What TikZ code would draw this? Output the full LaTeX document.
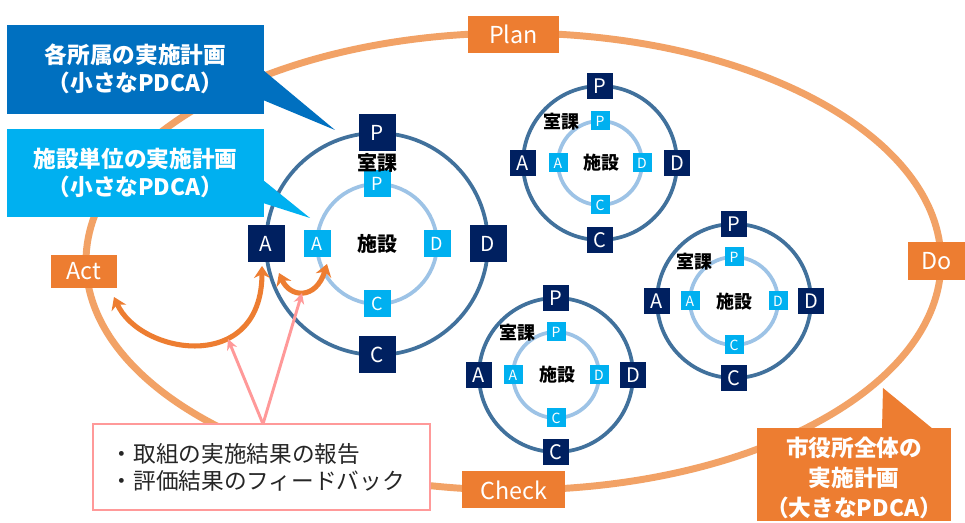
\documentclass[tikz,border=0pt]{standalone}
\usepackage{fontspec}
\setmainfont{Noto Sans CJK JP}
\usetikzlibrary{arrows.meta}
\definecolor{navy}{HTML}{002060}
\definecolor{skyb}{HTML}{00B0F0}
\definecolor{ringout}{HTML}{41719C}
\definecolor{ringin}{HTML}{9DC3E6}
\definecolor{orng}{HTML}{ED7D31}
\definecolor{loopc}{HTML}{F2A266}
\definecolor{dblue}{HTML}{0070C0}
\definecolor{pinkc}{HTML}{FF9999}
\definecolor{txt}{HTML}{262626}
\newcommand\pdcaunit[9]{%
  \coordinate (#1) at (#2,#3);
  \draw[outerring] (#1) circle[radius=#4];
  \draw[innerring] (#1) circle[radius=#5];
  \node[bigbox, minimum size=#6, font=#8] (#1P) at (#2,{#3-#4}) {P};
  \node[bigbox, minimum size=#6, font=#8] (#1D) at ({#2+#4},#3) {D};
  \node[bigbox, minimum size=#6, font=#8] (#1C) at (#2,{#3+#4}) {C};
  \node[bigbox, minimum size=#6, font=#8] (#1A) at ({#2-#4},#3) {A};
  \node[smallbox, minimum size=#7, font=#9] (#1p) at (#2,{#3-#5}) {P};
  \node[smallbox, minimum size=#7, font=#9] (#1d) at ({#2+#5},#3) {D};
  \node[smallbox, minimum size=#7, font=#9] (#1c) at (#2,{#3+#5}) {C};
  \node[smallbox, minimum size=#7, font=#9] (#1a) at ({#2-#5},#3) {A};
}
\begin{document}
\begin{tikzpicture}[x=0.75pt,y=-0.75pt,
  outerring/.style={draw=ringout, line width=2.8pt},
  innerring/.style={draw=ringin, line width=2.8pt},
  bigbox/.style={fill=navy, text=white, inner sep=0pt},
  smallbox/.style={fill=skyb, text=white, inner sep=0pt},
  phase/.style={fill=orng, text=white, inner sep=0pt, font=\fontsize{17.5}{20}\selectfont},
  calltext/.style={text=white, align=center, font=\bfseries\fontsize{17}{21}\selectfont},
  bigloop/.style={draw=loopc, line width=5.2pt},
  oarrow/.style={draw=orng, line width=3.8pt, {Stealth[length=9pt,width=12pt]}-{Stealth[length=9pt,width=12pt]}},
  parrow/.style={draw=pinkc, line width=2.2pt, -{Stealth[length=8pt,width=8pt]}},
  ringlabel/.style={text=black, font=\bfseries\fontsize{15}{16}\selectfont},
  ringlabelsm/.style={text=black, font=\bfseries\fontsize{13.5}{15}\selectfont}]
\useasboundingbox (0,0) rectangle (965,523);
\fill[white] (0,0) rectangle (965,523);

% large orange loop
\draw[bigloop] (513.5,261.5) ellipse [x radius=427.5, y radius=228.5];

% main PDCA unit
\pdcaunit{m}{377}{244}{111}{60}{27.75pt}{20.25pt}{\fontsize{15.5}{16}\selectfont}{\fontsize{13.5}{14}\selectfont}
\node[ringlabel] (mlab1) at (377,163) {室課};
\node[ringlabel] (mlab2) at (377,244) {施設};

% small PDCA units
\pdcaunit{t}{600}{163}{77}{42}{19.5pt}{14.25pt}{\fontsize{15}{16}\selectfont}{\fontsize{10.5}{11}\selectfont}
\node[ringlabelsm] (tlab1) at (561,122) {室課};
\node[ringlabelsm] (tlab2) at (601,163) {施設};

\pdcaunit{b}{556}{375}{77}{43}{19.5pt}{14.25pt}{\fontsize{15}{16}\selectfont}{\fontsize{10.5}{11}\selectfont}
\node[ringlabelsm] (blab1) at (517,333) {室課};
\node[ringlabelsm] (blab2) at (557,375) {施設};

\pdcaunit{r}{734}{301}{77}{44}{19.5pt}{14.25pt}{\fontsize{15}{16}\selectfont}{\fontsize{10.5}{11}\selectfont}
\node[ringlabelsm] (rlab1) at (694,262) {室課};
\node[ringlabelsm] (rlab2) at (734,302) {施設};

% phase labels
\node[phase, minimum width=68.25pt, minimum height=27.75pt] (plan) at (513.5,34.5) {Plan};
\node[phase, minimum width=77.25pt, minimum height=27.75pt] (check) at (513.5,490) {Check};
\node[phase, minimum width=42.75pt, minimum height=28.5pt] (do) at (936.5,261) {Do};
\node[phase, minimum width=49.5pt, minimum height=25pt] (act) at (84,271.5) {Act};

% orange double arrows
\coordinate (a1s) at (114,297);
\coordinate (a1e) at (262,266);
\draw[oarrow] (a1s) .. controls (140,355) and (262,375) .. (a1e);
\coordinate (a2s) at (279,273);
\coordinate (a2e) at (327,264);
\draw[oarrow] (a2s) .. controls (290,298) and (316,300) .. (a2e);

% callouts
\fill[dblue] (7,25) rectangle (264,114);
\fill[dblue] (263,70) -- (335,130) -- (263,100) -- cycle;
\node[calltext] (c1) at (135.5,69) {各所属の実施計画\\（小さなPDCA）};

\fill[skyb] (7,129) rectangle (264,217);
\fill[skyb] (263,180) -- (310,218) -- (263,203) -- cycle;
\node[calltext] (c2) at (135.5,173) {施設単位の実施計画\\（小さなPDCA）};

\fill[orng] (757,428) rectangle (951,521);
\fill[orng] (882,429) -- (883,388) -- (933,429) -- cycle;
\node[calltext, font=\bfseries\fontsize{17}{22.5}\selectfont] (c3) at (854,478) {市役所全体の\\実施計画\\（大きなPDCA）};

% feedback box
\node[draw=pinkc, line width=2.2pt, fill=white, minimum width=252.75pt, minimum height=64.5pt, inner sep=0pt] (fb) at (261.5,467) {};
\node[text=txt, align=left, anchor=west, font=\fontsize{17}{20.3}\selectfont] (fbt) at (106,467) {・取組の実施結果の報告\\・評価結果のフィードバック};

% pink arrows
\coordinate (fbtop) at (263,424);
\coordinate (p1) at (228,339);
\coordinate (p2) at (302,293);
\draw[parrow] (fbtop) -- (p1);
\draw[parrow] (fbtop) -- (p2);
\end{tikzpicture}
\end{document}
